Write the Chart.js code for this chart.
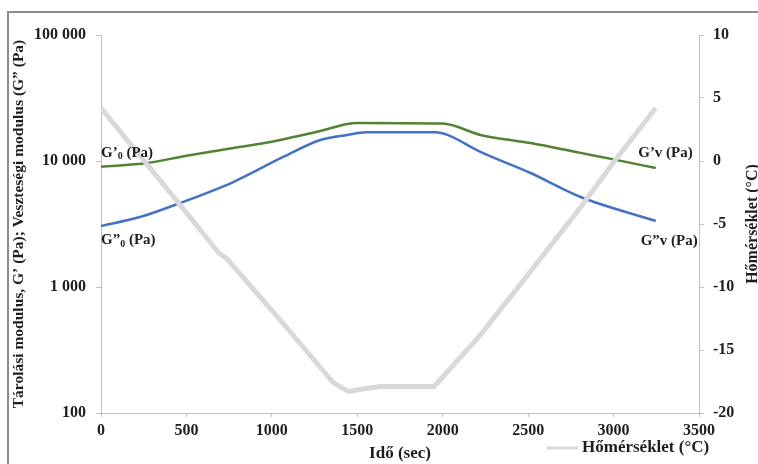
<!DOCTYPE html>
<html>
<head>
<meta charset="utf-8">
<script src="https://cdn.jsdelivr.net/npm/chart.js@4.4.1/dist/chart.umd.min.js"></script>
<style>
html, body { margin: 0; padding: 0; background: #fff; overflow: hidden; }
#wrap { position: relative; width: 758px; height: 464px; }
#frame { position: absolute; left: 7px; top: 11px; width: 800px; height: 500px; border: 2px solid #8c8c8c; pointer-events: none; }
</style>
</head>
<body>
<div id="wrap">
  <canvas id="chart" width="758" height="464"></canvas>
  <div id="frame"></div>
</div>
<script>
'use strict'

// G' (storage modulus), Pa
const gTime = [0, 270, 500, 774, 1000, 1125, 1284, 1442, 1500, 2000, 2221, 2514, 2807, 3000, 3247]
const gValues = [9000, 9640, 11000, 12700, 14200, 15500, 17300, 19700, 20000, 19800, 16100, 13900, 11600, 10300, 8800]

// G'' (loss modulus), Pa
const lossTime = [0, 228, 463, 774, 1066, 1284, 1442, 1550, 1960, 2028, 2221, 2514, 2807, 3247]
const lossValues = [3050, 3590, 4640, 6810, 10760, 14680, 16100, 16900, 16900, 16100, 11800, 8030, 5180, 3340]

// temperature, °C
const tempTime = [0, 350, 690, 740, 1067, 1360, 1450, 1530, 1640, 1950, 2221, 2500, 2800, 3000, 3247]
const tempValues = [4.2, -1.6, -7.3, -7.8, -12.9, -17.6, -18.3, -18.1, -17.9, -17.9, -13.8, -9.0, -3.8, -0.1, 4.2]

const xTicks = [0, 500, 1000, 1500, 2000, 2500, 3000, 3500]
const leftTicks = [100, 1000, 10000, 100000]
const leftTickLabels = ['100', '1 000', '10 000', '100 000']

const serif = "'Liberation Serif', 'DejaVu Serif', serif"
const textColor = '#1e1e1e'
const axisColor = '#bfbfbf'

const toPoints = (xs, ys) => xs.map((t, i) => ({x: t, y: ys[i]}))

// draws "G’" + subscript + rest, aligned left or right at x
function drawLabel(ctx, main, sub, rest, x, y, align) {
    const big = `bold 15px ${serif}`
    const small = `bold 10px ${serif}`
    ctx.font = big
    const w1 = ctx.measureText(main).width
    const w3 = ctx.measureText(rest).width
    ctx.font = small
    const w2 = sub ? ctx.measureText(sub).width : 0
    let left = align === 'right' ? x - (w1 + w2 + w3) : x
    ctx.textAlign = 'left'
    ctx.font = big
    ctx.fillText(main, left, y)
    if (sub) {
        ctx.font = small
        ctx.fillText(sub, left + w1, y + 4)
    }
    ctx.font = big
    ctx.fillText(rest, left + w1 + w2, y)
}

const extrasPlugin = {
    id: 'extras',
    afterDraw(chart) {
        const {ctx, chartArea, scales} = chart
        const x = scales.x, y = scales.y
        ctx.save()
        ctx.fillStyle = textColor
        ctx.textBaseline = 'middle'

        // series labels next to the curve ends
        const gx0 = x.getPixelForValue(gTime[0]), gy0 = y.getPixelForValue(gValues[0])
        const lx0 = x.getPixelForValue(lossTime[0]), ly0 = y.getPixelForValue(lossValues[0])
        const gxN = x.getPixelForValue(gTime[gTime.length - 1]), gyN = y.getPixelForValue(gValues[gValues.length - 1])
        const lxN = x.getPixelForValue(lossTime[lossTime.length - 1]), lyN = y.getPixelForValue(lossValues[lossValues.length - 1])
        drawLabel(ctx, 'G’', '0', ' (Pa)', gx0, gy0 - 14, 'left')
        drawLabel(ctx, 'G”', '0', ' (Pa)', lx0, ly0 + 14, 'left')
        drawLabel(ctx, 'G’v (Pa)', '', '', gxN + 37, gyN - 15, 'right')
        drawLabel(ctx, 'G”v (Pa)', '', '', lxN + 42, lyN + 20, 'right')

        // legend for the temperature series
        const ds = chart.data.datasets[0]
        const ly = 448
        const lx = chartArea.right - 152
        ctx.strokeStyle = ds.borderColor
        ctx.lineWidth = 3
        ctx.beginPath()
        ctx.moveTo(lx, ly)
        ctx.lineTo(lx + 31, ly)
        ctx.stroke()
        ctx.fillStyle = textColor
        ctx.font = `bold 17px ${serif}`
        ctx.textAlign = 'left'
        ctx.fillText(ds.label, lx + 35, ly)

        // right axis title, reading bottom to top
        ctx.translate(753, (chartArea.top + chartArea.bottom) / 2)
        ctx.rotate(-Math.PI / 2)
        ctx.textAlign = 'center'
        ctx.font = `bold 16px ${serif}`
        ctx.fillText('Hőmérséklet (°C)', 0, 0)
        ctx.restore()
    }
}

new Chart(document.getElementById('chart'), {
    type: 'line',
    data: {
        datasets: [
            {
                label: 'Hőmérséklet (°C)',
                data: toPoints(tempTime, tempValues),
                yAxisID: 'y1',
                borderColor: '#d9d9d9',
                borderWidth: 5,
                borderJoinStyle: 'round',
                pointRadius: 0,
                tension: 0
            },
            {
                label: 'G’ (Pa)',
                data: toPoints(gTime, gValues),
                yAxisID: 'y',
                borderColor: '#548235',
                borderWidth: 2.5,
                pointRadius: 0,
                cubicInterpolationMode: 'monotone'
            },
            {
                label: 'G” (Pa)',
                data: toPoints(lossTime, lossValues),
                yAxisID: 'y',
                borderColor: '#4472c4',
                borderWidth: 2.5,
                pointRadius: 0,
                cubicInterpolationMode: 'monotone'
            }
        ]
    },
    options: {
        responsive: false,
        animation: false,
        layout: { padding: { top: 35, right: 0, bottom: 0, left: 0 } },
        plugins: {
            legend: { display: false },
            tooltip: { enabled: false }
        },
        scales: {
            x: {
                type: 'linear',
                min: 0,
                max: 3500,
                afterBuildTicks: scale => { scale.ticks = xTicks.map(v => ({value: v})) },
                afterFit: scale => { scale.height = 51 },
                border: { color: axisColor, width: 1 },
                grid: { drawOnChartArea: false, color: axisColor, tickLength: 4 },
                ticks: {
                    padding: 4,
                    color: textColor,
                    font: { family: serif, size: 16, weight: 'bold' },
                    callback: v => String(v)
                },
                title: {
                    display: true,
                    text: 'Idő (sec)',
                    color: textColor,
                    font: { family: serif, size: 17, weight: 'bold' },
                    padding: { top: 0, bottom: 0 }
                }
            },
            y: {
                type: 'logarithmic',
                position: 'left',
                min: 100,
                max: 100000,
                afterBuildTicks: scale => { scale.ticks = leftTicks.map(v => ({value: v})) },
                afterFit: scale => { scale.width = 101 },
                border: { color: axisColor, width: 1 },
                grid: { drawOnChartArea: false, color: axisColor, tickLength: 5 },
                ticks: {
                    padding: 10,
                    color: textColor,
                    font: { family: serif, size: 16, weight: 'bold' },
                    callback: (v, i) => leftTickLabels[i]
                },
                title: {
                    display: true,
                    text: 'Tárolási modulus, G’ (Pa); Veszteségi modulus (G” (Pa)',
                    color: textColor,
                    font: { family: serif, size: 15.5, weight: 'bold' },
                    padding: { top: 10, bottom: 0 }
                }
            },
            y1: {
                type: 'linear',
                position: 'right',
                min: -20,
                max: 10,
                afterFit: scale => { scale.width = 59 },
                border: { color: axisColor, width: 1 },
                grid: { drawOnChartArea: false, color: axisColor, tickLength: 5 },
                ticks: {
                    stepSize: 5,
                    padding: 9,
                    color: textColor,
                    font: { family: serif, size: 16, weight: 'bold' }
                }
            }
        }
    },
    plugins: [extrasPlugin]
})
</script>
</body>
</html>
